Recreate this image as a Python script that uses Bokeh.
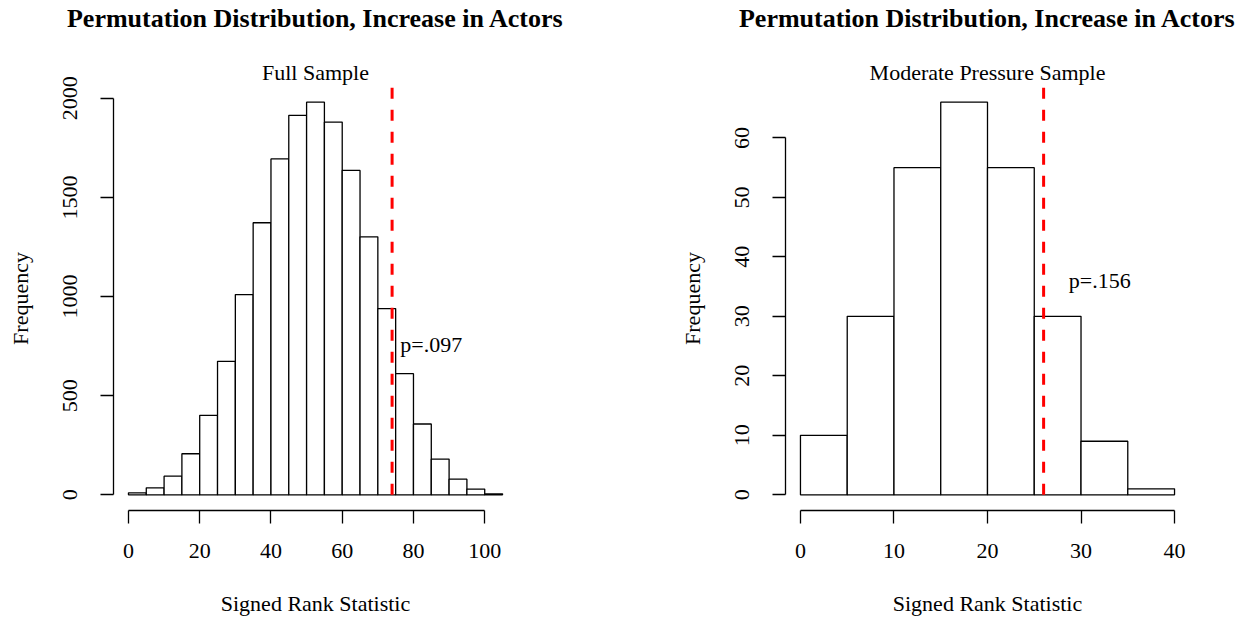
from bokeh.plotting import figure
from bokeh.layouts import row
from bokeh.models import FixedTicker, Range1d, Title
from bokeh.core.properties import value
from bokeh.embed import file_html
from bokeh.resources import INLINE

# ---------------- data ----------------
title_text = "Permutation Distribution, Increase in Actors"
x_label = "Signed Rank Statistic"
y_label = "Frequency"

full_subtitle = "Full Sample"
full_bin_edges = [0, 5, 10, 15, 20, 25, 30, 35, 40, 45, 50, 55, 60, 65, 70,
                  75, 80, 85, 90, 95, 100, 105]
full_counts = [10, 35, 94, 207, 401, 673, 1010, 1372, 1694, 1914, 1980, 1880,
               1636, 1301, 939, 611, 357, 180, 79, 29, 5]
full_observed = 74
full_pvalue = "p=.097"
full_xticks = [0, 20, 40, 60, 80, 100]
full_yticks = [0, 500, 1000, 1500, 2000]

mod_subtitle = "Moderate Pressure Sample"
mod_bin_edges = [0, 5, 10, 15, 20, 25, 30, 35, 40]
mod_counts = [10, 30, 55, 66, 55, 30, 9, 1]
mod_observed = 26
mod_pvalue = "p=.156"
mod_xticks = [0, 10, 20, 30, 40]
mod_yticks = [0, 10, 20, 30, 40, 50, 60]

FONT = "Liberation Serif"
FRAME_W, FRAME_H = 404, 424


def panel(edges, counts, observed, pval, pval_xy, subtitle, xticks, yticks,
          border_left, border_right):
    xmin, xmax = edges[0], edges[-1]
    ymax = max(counts)
    xext = 0.04 * (xmax - xmin)
    yext = 0.04 * ymax
    p = figure(frame_width=FRAME_W, frame_height=FRAME_H,
               min_border_left=border_left, min_border_right=border_right,
               min_border_top=86, min_border_bottom=110,
               x_range=Range1d(xmin - xext, xmax + xext),
               y_range=Range1d(-yext, ymax + yext),
               output_backend="svg", toolbar_location=None, tools="")
    p.outline_line_color = None
    p.xgrid.visible = False
    p.ygrid.visible = False
    p.background_fill_color = "white"
    p.border_fill_color = "white"

    p.quad(left=edges[:-1], right=edges[1:], bottom=0, top=counts,
           fill_color="white", line_color="black", line_width=1.3)
    p.segment(x0=[observed], y0=[0], x1=[observed], y1=[ymax * 1.2],
              line_color="#FF0000", line_width=3, line_dash="11 11")
    p.text(x=[pval_xy[0]], y=[pval_xy[1]], text=[pval],
           text_font=value(FONT), text_font_size="22px",
           text_align="center", text_baseline="middle", text_color="black")

    for ax, ticks in ((p.xaxis[0], xticks), (p.yaxis[0], yticks)):
        ax.ticker = FixedTicker(ticks=ticks)
        ax.bounds = (ticks[0], ticks[-1])
        ax.major_tick_out = 13
        ax.major_tick_in = 0
        ax.minor_tick_line_color = None
        ax.axis_line_color = "black"
        ax.major_tick_line_color = "black"
        ax.axis_line_width = 1.3
        ax.major_tick_line_width = 1.3
        ax.major_label_text_font = FONT
        ax.major_label_text_font_size = "22px"
        ax.major_label_text_color = "black"
        ax.axis_label_text_font = FONT
        ax.axis_label_text_font_size = "22px"
        ax.axis_label_text_font_style = "normal"
        ax.axis_label_text_color = "black"

    p.xaxis[0].axis_label = x_label
    p.xaxis[0].major_label_standoff = 20
    p.xaxis[0].axis_label_standoff = 30
    p.yaxis[0].axis_label = y_label
    p.yaxis[0].major_label_orientation = "vertical"
    p.yaxis[0].major_label_standoff = 23
    p.yaxis[0].axis_label_standoff = 28

    p.title = Title(text=title_text, text_font=FONT, text_font_size="26px",
                    text_font_style="bold", align="center", standoff=0,
                    text_color="black")
    p.add_layout(Title(text=subtitle, text_font=FONT, text_font_size="22px",
                       text_font_style="normal", align="center", standoff=4,
                       text_color="black"), "above")
    p.add_layout(Title(text=" ", text_font=FONT, text_font_size="1px",
                       align="center", standoff=20), "above")
    return p


p1 = panel(full_bin_edges, full_counts, full_observed, full_pvalue, (85, 760),
           full_subtitle, full_xticks, full_yticks, 113, 108)
p2 = panel(mod_bin_edges, mod_counts, mod_observed, mod_pvalue, (32, 36),
           mod_subtitle, mod_xticks, mod_yticks, 160, 61)

layout = row(p1, p2)
open("out.html", "w").write(file_html(layout, INLINE))
